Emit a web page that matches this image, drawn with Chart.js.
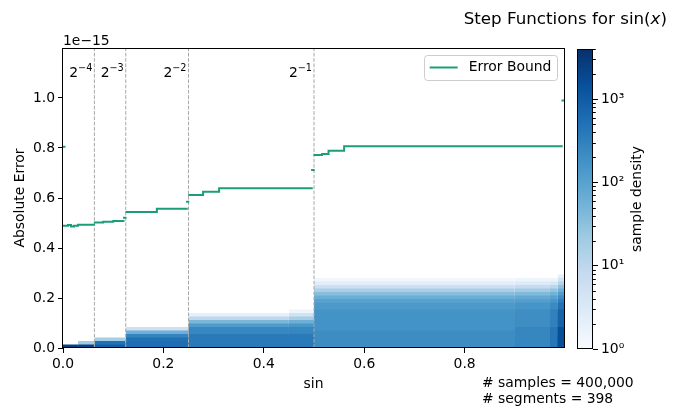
<!DOCTYPE html>
<html>
<head>
<meta charset="utf-8">
<script src="https://cdn.jsdelivr.net/npm/chart.js@4.4.1/dist/chart.umd.min.js"></script>
<style>
  html, body { margin: 0; padding: 0; background: #fff; }
  #wrap { position: relative; width: 685px; height: 407px; }
  #wrap canvas { position: absolute; left: 0; top: 0; }
</style>
</head>
<body>
<div id="wrap">
  <canvas id="mainChart" width="685" height="407"></canvas>
  <canvas id="barChart" width="685" height="407"></canvas>
</div>
<script>
// axis ranges and ticks (error values in units of 1e-15)
const xMax = 0.998;
const yMax = 1.2;
const xTicks = [0, 0.2, 0.4, 0.6, 0.8];
const yTicks = [0, 0.2, 0.4, 0.6, 0.8, 1.0];
const densityMax = 4000;
const densityTicks = [1, 10, 100, 1000];

// octave boundaries and their labels
const boundaryX = [0.0625, 0.125, 0.25, 0.5];
const boundaryExp = ['\u22124', '\u22123', '\u22122', '\u22121'];

// error bound step pieces: start, end, value
const boundStart = [0, 0.002, 0.010, 0.016, 0.022, 0.030, 0.0635, 0.080, 0.100, 0.1215,
    0.1265, 0.187, 0.2472, 0.2515, 0.279, 0.311, 0.4962, 0.5012, 0.516, 0.529, 0.560, 0.995];
const boundEnd = [0.003, 0.010, 0.016, 0.022, 0.030, 0.0615, 0.080, 0.100, 0.1205, 0.1245,
    0.187, 0.2465, 0.2495, 0.279, 0.311, 0.4955, 0.4993, 0.516, 0.529, 0.560, 0.9935, 0.998];
const boundValue = [0.805, 0.489, 0.492, 0.486, 0.489, 0.493, 0.502, 0.505, 0.508, 0.521,
    0.544, 0.557, 0.585, 0.612, 0.625, 0.639, 0.712, 0.772, 0.776, 0.789, 0.807, 0.99];

// 2d histogram: x bands, each with sample counts per error row (rows of 0.014)
const densityRowHeight = 0.014;
const bandStart = [0, 0.03, 0.0625, 0.125, 0.25, 0.45, 0.5, 0.9, 0.97, 0.985];
const bandEnd = [0.03, 0.0625, 0.125, 0.25, 0.45, 0.5, 0.9, 0.97, 0.985, 0.998];
const band1 = [2500];
const band2 = [2300, 20];
const band3 = [900, 500, 18];
const band4 = [550, 550, 520, 280, 60, 6];
const band5 = [380, 380, 380, 380, 250, 250, 130, 45, 10, 2];
const band6 = [380, 380, 380, 380, 260, 250, 150, 60, 18, 5, 1.5];
const band7 = [210, 210, 210, 210, 210, 170, 170, 170, 170, 170, 170, 140, 140, 100, 65, 35, 16, 6, 2.5, 1.3];
const band8 = [260, 260, 260, 260, 260, 260, 200, 200, 200, 200, 200, 160, 160, 110, 75, 40, 20, 8, 3, 1.5];
const band9 = [420, 420, 420, 420, 420, 420, 300, 300, 300, 300, 300, 220, 220, 150, 100, 55, 28, 11, 4, 1.5];
const band10 = [1500, 1500, 1500, 1500, 1500, 1500, 800, 800, 800, 800, 800, 500, 500, 320, 200, 120, 60, 30, 12, 5, 2];
const densityBands = [band1, band2, band3, band4, band5, band6, band7, band8, band9, band10];

const BLUES = ['#f7fbff', '#deebf7', '#c6dbef', '#9ecae1', '#6baed6', '#4292c6', '#2171b5', '#08519c', '#08306b'];
const BOUND_COLOR = '#1b9e77';
const FONT = "'DejaVu Sans', sans-serif";

Chart.defaults.font.family = FONT;
Chart.defaults.font.size = 13.9;
Chart.defaults.color = '#000';

function hexRgb(h) {
    return [parseInt(h.slice(1, 3), 16), parseInt(h.slice(3, 5), 16), parseInt(h.slice(5, 7), 16)];
}

function blues(t) {
    t = Math.max(0, Math.min(1, t));
    const pos = t * (BLUES.length - 1);
    const i = Math.min(Math.floor(pos), BLUES.length - 2);
    const f = pos - i;
    const a = hexRgb(BLUES[i]), b = hexRgb(BLUES[i + 1]);
    const c = a.map((v, k) => Math.round(v + (b[k] - v) * f));
    return `rgb(${c[0]},${c[1]},${c[2]})`;
}

function densityColor(d) {
    return blues(Math.log10(d) / Math.log10(densityMax));
}

// each cell fills down to zero; upper rows drawn first so rows overlap without seams
const cellSets = [];
densityBands.forEach((rows, b) => {
    rows.forEach((d, r) => {
        const top = (r + 1) * densityRowHeight;
        cellSets.push({
            data: [{ x: bandStart[b], y: top }, { x: bandEnd[b], y: top }],
            fill: { value: 0 },
            backgroundColor: densityColor(d),
            borderColor: 'rgba(0,0,0,0)',
            borderWidth: 0,
            pointRadius: 0,
            order: 10 + r
        });
    });
});

const boundaryLines = boundaryX.map(bx => ({
    data: [{ x: bx, y: 0 }, { x: bx, y: yMax }],
    borderColor: '#a8a8a8',
    borderWidth: 1,
    borderDash: [3.7, 1.6],
    pointRadius: 0,
    fill: false,
    order: 1
}));

const boundPoints = [];
boundStart.forEach((x0, i) => {
    if (i > 0 && x0 !== boundEnd[i - 1]) boundPoints.push({ x: x0, y: null });
    boundPoints.push({ x: x0, y: boundValue[i] }, { x: boundEnd[i], y: boundValue[i] });
});

const mainDecor = {
    id: 'mainDecor',
    afterDraw(chart) {
        const { ctx, chartArea: a, scales } = chart;
        ctx.save();
        // spines
        ctx.strokeStyle = '#000';
        ctx.lineWidth = 1;
        ctx.strokeRect(Math.round(a.left) - 0.5, Math.round(a.top) + 0.5,
            Math.round(a.right - a.left) + 1, Math.round(a.bottom - a.top) - 1);

        // octave labels 2^-k
        ctx.fillStyle = '#000';
        ctx.textBaseline = 'alphabetic';
        ctx.textAlign = 'left';
        boundaryX.forEach((bx, i) => {
            const xp = scales.x.getPixelForValue(bx) - 2;
            ctx.font = `9.7px ${FONT}`;
            const supW = ctx.measureText(boundaryExp[i]).width;
            ctx.fillText(boundaryExp[i], xp - supW, 70.7);
            ctx.font = `13.9px ${FONT}`;
            const baseW = ctx.measureText('2').width;
            ctx.fillText('2', xp - supW - baseW, 77);
        });

        // offset text
        ctx.font = `13.9px ${FONT}`;
        ctx.fillText('1e\u221215', a.left, 45);

        // legend
        ctx.font = `13.9px ${FONT}`;
        const label = 'Error Bound';
        const tw = ctx.measureText(label).width;
        const boxW = 5.6 + 28 + 11 + tw + 5.6;
        const boxH = 25;
        const bx = a.right - 7 - boxW;
        const by = a.top + 7;
        ctx.beginPath();
        ctx.roundRect(bx + 0.5, by + 0.5, boxW, boxH, 3);
        ctx.fillStyle = 'rgba(255,255,255,0.8)';
        ctx.fill();
        ctx.strokeStyle = '#cccccc';
        ctx.stroke();
        ctx.strokeStyle = BOUND_COLOR;
        ctx.lineWidth = 2;
        ctx.beginPath();
        ctx.moveTo(bx + 5.6, by + boxH / 2);
        ctx.lineTo(bx + 5.6 + 28, by + boxH / 2);
        ctx.stroke();
        ctx.fillStyle = '#000';
        ctx.textBaseline = 'middle';
        ctx.fillText(label, bx + 5.6 + 28 + 11, by + boxH / 2);
        ctx.restore();
    }
};

new Chart(document.getElementById('mainChart'), {
    type: 'line',
    data: {
        datasets: [
            {
                label: 'Error Bound',
                data: boundPoints,
                borderColor: BOUND_COLOR,
                borderWidth: 2,
                borderCapStyle: 'square',
                pointRadius: 0,
                fill: false,
                spanGaps: false,
                order: 0
            },
            ...boundaryLines,
            ...cellSets
        ]
    },
    options: {
        responsive: false,
        animation: false,
        layout: { padding: { left: 8, right: 121, top: 48, bottom: 12 } },
        plugins: { legend: { display: false }, tooltip: { enabled: false } },
        scales: {
            x: {
                type: 'linear',
                min: 0,
                max: xMax,
                afterBuildTicks: ax => { ax.ticks = xTicks.map(v => ({ value: v })); },
                afterFit: ax => { ax.height = 47; },
                border: { display: false },
                grid: { drawOnChartArea: false, tickLength: 5, tickColor: '#000', tickWidth: 1 },
                ticks: { padding: 3, maxRotation: 0, callback: v => v.toFixed(1) },
                title: { display: true, text: 'sin', padding: { top: 4, bottom: 2 } }
            },
            y: {
                type: 'linear',
                min: 0,
                max: yMax,
                afterBuildTicks: ax => { ax.ticks = yTicks.map(v => ({ value: v })); },
                afterFit: ax => { ax.width = 55; },
                border: { display: false },
                grid: { drawOnChartArea: false, tickLength: 5, tickColor: '#000', tickWidth: 1 },
                ticks: { padding: 3, callback: v => v.toFixed(1) },
                title: { display: true, text: 'Absolute Error', padding: { top: 4, bottom: 4 } }
            }
        }
    },
    plugins: [mainDecor]
});

const SUP = { '0': '\u2070', '1': '\u00b9', '2': '\u00b2', '3': '\u00b3' };

const barDecor = {
    id: 'barDecor',
    afterDraw(chart) {
        const { ctx, chartArea: a, scales } = chart;
        ctx.save();
        ctx.strokeStyle = '#000';
        ctx.lineWidth = 1;
        ctx.strokeRect(Math.round(a.left) + 0.5, Math.round(a.top) + 0.5,
            Math.round(a.right - a.left) - 1, Math.round(a.bottom - a.top) - 1);
        // minor ticks
        const rx = Math.round(a.right);
        ctx.beginPath();
        for (let k = 0; k < 4; k++) {
            for (let m = 2; m <= 9; m++) {
                const v = m * Math.pow(10, k);
                if (v > densityMax) continue;
                const yp = Math.round(scales.y.getPixelForValue(v)) + 0.5;
                ctx.moveTo(rx, yp);
                ctx.lineTo(rx + 2.8, yp);
            }
        }
        ctx.stroke();

        // colorbar label
        ctx.fillStyle = '#000';
        ctx.font = `13.9px ${FONT}`;
        ctx.textAlign = 'center';
        ctx.textBaseline = 'middle';
        ctx.translate(637, (a.top + a.bottom) / 2);
        ctx.rotate(-Math.PI / 2);
        ctx.fillText('sample density', 0, 0);
        ctx.setTransform(1, 0, 0, 1, 0, 0);

        // title, drawn right to left
        ctx.textAlign = 'left';
        ctx.textBaseline = 'alphabetic';
        const size = 16.7;
        const parts = [['Step Functions for sin(', 'normal'], ['x', 'italic'], [')', 'normal']];
        let x = 667;
        for (let i = parts.length - 1; i >= 0; i--) {
            ctx.font = `${parts[i][1]} ${size}px ${FONT}`;
            x -= ctx.measureText(parts[i][0]).width;
            ctx.fillText(parts[i][0], x, 24);
        }

        // sample notes
        ctx.font = `13.9px ${FONT}`;
        ctx.textBaseline = 'middle';
        ctx.fillText('# samples = 400,000', 482, 383);
        ctx.fillText('# segments = 398', 482, 399);
        ctx.restore();
    }
};

new Chart(document.getElementById('barChart'), {
    type: 'bar',
    data: {
        labels: [''],
        datasets: [{
            data: [[1, densityMax]],
            backgroundColor: context => {
                const { ctx, chartArea } = context.chart;
                if (!chartArea) return BLUES[4];
                const g = ctx.createLinearGradient(0, chartArea.bottom, 0, chartArea.top);
                BLUES.forEach((c, i) => g.addColorStop(i / (BLUES.length - 1), c));
                return g;
            },
            borderWidth: 0,
            barPercentage: 1,
            categoryPercentage: 1
        }]
    },
    options: {
        responsive: false,
        animation: false,
        layout: { padding: { left: 577, right: 32, top: 49, bottom: 58 } },
        plugins: { legend: { display: false }, tooltip: { enabled: false } },
        scales: {
            x: { display: false },
            y: {
                type: 'logarithmic',
                position: 'right',
                min: 1,
                max: densityMax,
                afterBuildTicks: ax => { ax.ticks = densityTicks.map(v => ({ value: v })); },
                afterFit: ax => { ax.width = 60; },
                border: { display: false },
                grid: { drawOnChartArea: false, tickLength: 5, tickColor: '#000', tickWidth: 1 },
                ticks: {
                    padding: 3,
                    callback: v => '10' + SUP[String(Math.round(Math.log10(v)))]
                }
            }
        }
    },
    plugins: [barDecor]
});
</script>
</body>
</html>
